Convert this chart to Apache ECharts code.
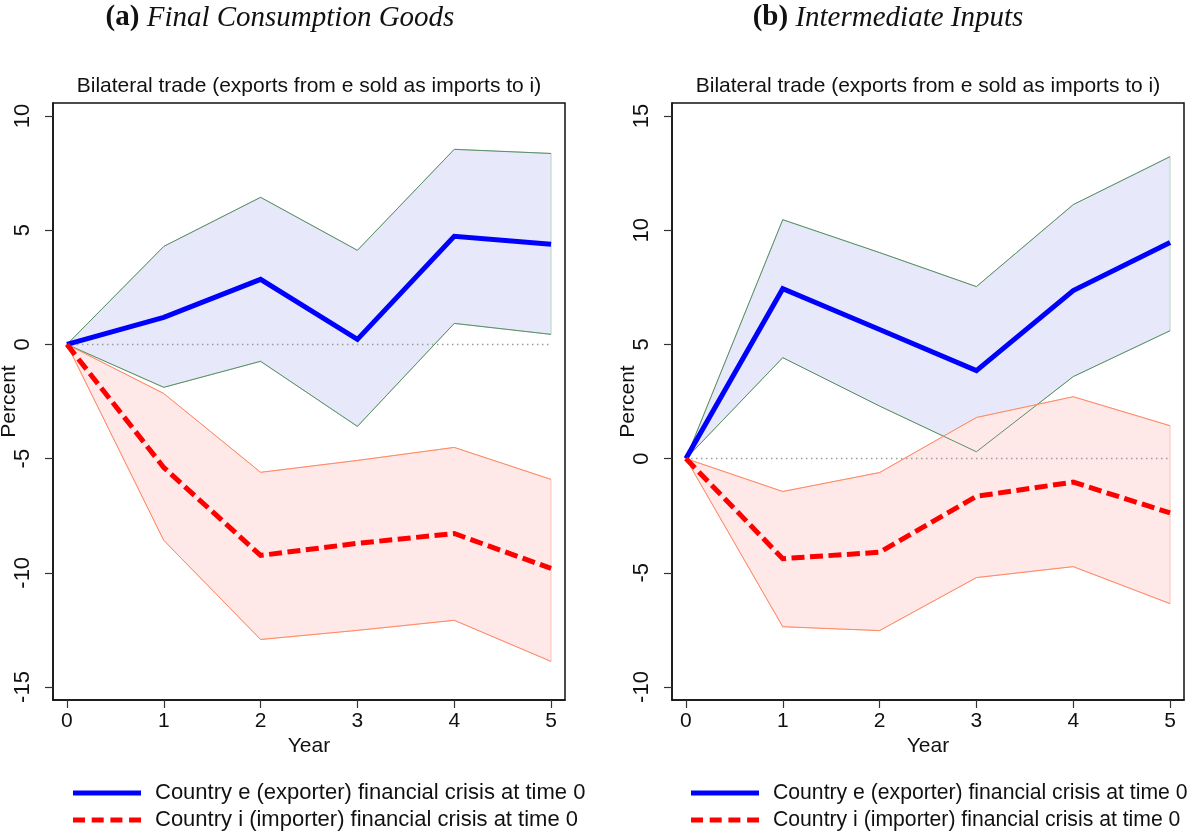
<!DOCTYPE html>
<html>
<head>
<meta charset="utf-8">
<script src="https://cdn.jsdelivr.net/npm/echarts@6/dist/echarts.min.js"></script>
<style>
html,body{margin:0;padding:0;background:#fff;}
#main{width:1191px;height:832px;}
</style>
</head>
<body>
<div id="main"></div>
<script>
// ---------- data ----------
const years = [0, 1, 2, 3, 4, 5];
// Panel (a): Final consumption goods
const aExpLine  = [0, 1.18, 2.85, 0.22, 4.73, 4.38];
const aExpUpper = [0, 4.29, 6.44, 4.12, 8.54, 8.36];
const aExpLower = [0, -1.88, -0.74, -3.59, 0.92, 0.44];
const aImpLine  = [0, -5.39, -9.24, -8.71, -8.28, -9.81];
const aImpUpper = [0, -2.15, -5.60, -5.08, -4.51, -5.91];
const aImpLower = [0, -8.58, -12.92, -12.52, -12.08, -13.88];
// Panel (b): Intermediate inputs
const bExpLine  = [0, 7.44, 5.65, 3.85, 7.36, 9.46];
const bExpUpper = [0, 10.46, 9.02, 7.53, 11.12, 13.22];
const bExpLower = [0, 4.42, 2.30, 0.30, 3.59, 5.60];
const bImpLine  = [0, -4.38, -4.10, -1.65, -1.03, -2.38];
const bImpUpper = [0, -1.44, -0.61, 1.80, 2.71, 1.44];
const bImpLower = [0, -7.36, -7.53, -5.21, -4.73, -6.35];
const zeroLine  = [0, 0, 0, 0, 0, 0];

const aTicks = [-15, -10, -5, 0, 5, 10];
const bTicks = [-10, -5, 0, 5, 10, 15];
const xTicks = [0, 1, 2, 3, 4, 5];

const subTitle = 'Bilateral trade (exports from e sold as imports to i)';
const nameExp = 'Country e (exporter) financial crisis at time 0';
const nameImp = 'Country i (importer) financial crisis at time 0';

// ---------- helpers ----------
const SANS = '"Liberation Sans", Arial, sans-serif';
const SERIF = '"Liberation Serif", serif';
const pairs = arr => years.map((x, i) => [x, arr[i]]);

function band(idx, upper, lower, fill, edge) {
  return {
    type: 'custom', xAxisIndex: idx, yAxisIndex: idx, silent: true,
    data: [[0, 0]],
    renderItem: function (params, api) {
      const pts = [];
      years.forEach((x, i) => pts.push(api.coord([x, upper[i]])));
      for (let i = years.length - 1; i >= 0; i--) pts.push(api.coord([years[i], lower[i]]));
      return {
        type: 'polygon',
        shape: { points: pts },
        style: { fill: fill, stroke: edge, lineWidth: 1 }
      };
    }
  };
}
function bound(idx, arr, color) {
  return {
    type: 'line', xAxisIndex: idx, yAxisIndex: idx, data: pairs(arr),
    symbol: 'none', silent: true, lineStyle: { color: color, width: 1 }
  };
}
function zero(idx) {
  return {
    type: 'line', xAxisIndex: idx, yAxisIndex: idx, data: pairs(zeroLine),
    symbol: 'none', silent: true,
    lineStyle: { color: '#9a9a9a', width: 1.5, type: [1.5, 3.5] }
  };
}
function mainLine(idx, name, arr, color, dashed) {
  return {
    type: 'line', name: name, xAxisIndex: idx, yAxisIndex: idx, data: pairs(arr),
    symbol: 'none', z: 5,
    lineStyle: { color: color, width: 5, type: dashed ? [13, 5.5] : 'solid', cap: 'butt', join: 'miter' },
    itemStyle: { color: color }
  };
}
function xAxis(idx) {
  return {
    type: 'value', gridIndex: idx, min: -0.144, max: 5.144,
    name: 'Year', nameLocation: 'middle', nameGap: 36, nameMoveOverlap: false,
    nameTextStyle: { fontFamily: SANS, fontSize: 21, color: '#111' },
    axisLine: { show: true, onZero: false, lineStyle: { color: '#111', width: 1.5 } },
    axisTick: { show: true, customValues: xTicks, length: 8, lineStyle: { color: '#333', width: 1.2 } },
    axisLabel: { customValues: xTicks, margin: 11, fontFamily: SANS, fontSize: 21, color: '#111' },
    splitLine: { show: false }
  };
}
function yAxis(idx, min, max, ticks) {
  return {
    type: 'value', gridIndex: idx, min: min, max: max,
    name: 'Percent', nameLocation: 'middle', nameGap: 33, nameRotate: 90, nameMoveOverlap: false,
    nameTextStyle: { fontFamily: SANS, fontSize: 21, color: '#111' },
    axisLine: { show: true, onZero: false, lineStyle: { color: '#111', width: 1.5 } },
    axisTick: { show: true, customValues: ticks, length: 8, lineStyle: { color: '#333', width: 1.2 } },
    axisLabel: { customValues: ticks, rotate: 90, margin: 19, fontFamily: SANS, fontSize: 22, color: '#111' },
    splitLine: { show: false }
  };
}
function legendItems(x0, fs) {
  return [
    { type: 'line', shape: { x1: x0, y1: 793, x2: x0 + 68, y2: 793 },
      style: { stroke: '#0000ff', lineWidth: 5 } },
    { type: 'text', x: x0 + 82, y: 793, style: { text: nameExp, fill: '#111',
      font: fs + 'px ' + SANS, textVerticalAlign: 'middle' } },
    { type: 'line', shape: { x1: x0, y1: 820, x2: x0 + 68, y2: 820 },
      style: { stroke: '#ff0000', lineWidth: 5, lineDash: [12, 6.7] } },
    { type: 'text', x: x0 + 82, y: 820, style: { text: nameImp, fill: '#111',
      font: fs + 'px ' + SANS, textVerticalAlign: 'middle' } }
  ];
}
function panelTitle(x, tag, label) {
  return { type: 'text', x: x, y: 18, style: {
    text: '{b|' + tag + '} {i|' + label + '}', textAlign: 'center', textVerticalAlign: 'middle',
    fill: '#111', font: '29px ' + SERIF,
    rich: { b: { fontWeight: 'bold', fontSize: 29, fontFamily: SERIF },
            i: { fontStyle: 'italic', fontSize: 29, fontFamily: SERIF } } } };
}

const BLUE_FILL = '#e7e9fb', GREEN_EDGE = '#5b8f66', GREEN_SIDE = '#b9d4bf';
const RED_FILL = '#ffe8e8', RED_EDGE = '#ff8a66', RED_SIDE = '#ffc4b4';

const chart = echarts.init(document.getElementById('main'), null, { renderer: 'canvas' });
chart.setOption({
  animation: false,
  backgroundColor: '#fff',
  grid: [
    { left: 53, top: 103, width: 512, height: 597, show: true, borderColor: '#111', borderWidth: 1.5,
      backgroundColor: 'transparent', containLabel: false, outerBoundsMode: 'none' },
    { left: 672, top: 103, width: 512, height: 597, show: true, borderColor: '#111', borderWidth: 1.5,
      backgroundColor: 'transparent', containLabel: false, outerBoundsMode: 'none' }
  ],
  xAxis: [xAxis(0), xAxis(1)],
  yAxis: [yAxis(0, -15.569, 10.569, aTicks), yAxis(1, -10.569, 15.569, bTicks)],
  graphic: [
    panelTitle(280, '(a)', 'Final Consumption Goods'),
    panelTitle(888, '(b)', 'Intermediate Inputs'),
    { type: 'text', x: 309, y: 86, style: { text: subTitle, textAlign: 'center', textVerticalAlign: 'middle',
        fill: '#111', font: '21px ' + SANS } },
    { type: 'text', x: 928, y: 86, style: { text: subTitle, textAlign: 'center', textVerticalAlign: 'middle',
        fill: '#111', font: '21px ' + SANS } }
  ].concat(legendItems(73, 22), legendItems(691, 21.2)),
  series: [
    band(0, aExpUpper, aExpLower, BLUE_FILL, GREEN_SIDE),
    bound(0, aExpUpper, GREEN_EDGE), bound(0, aExpLower, GREEN_EDGE),
    band(0, aImpUpper, aImpLower, RED_FILL, RED_SIDE),
    bound(0, aImpUpper, RED_EDGE), bound(0, aImpLower, RED_EDGE),
    zero(0),
    mainLine(0, nameExp, aExpLine, '#0000ff', false),
    mainLine(0, nameImp, aImpLine, '#ff0000', true),

    band(1, bExpUpper, bExpLower, BLUE_FILL, GREEN_SIDE),
    bound(1, bExpUpper, GREEN_EDGE), bound(1, bExpLower, GREEN_EDGE),
    band(1, bImpUpper, bImpLower, RED_FILL, RED_SIDE),
    bound(1, bImpUpper, RED_EDGE), bound(1, bImpLower, RED_EDGE),
    zero(1),
    mainLine(1, nameExp, bExpLine, '#0000ff', false),
    mainLine(1, nameImp, bImpLine, '#ff0000', true)
  ]
});
</script>
</body>
</html>
